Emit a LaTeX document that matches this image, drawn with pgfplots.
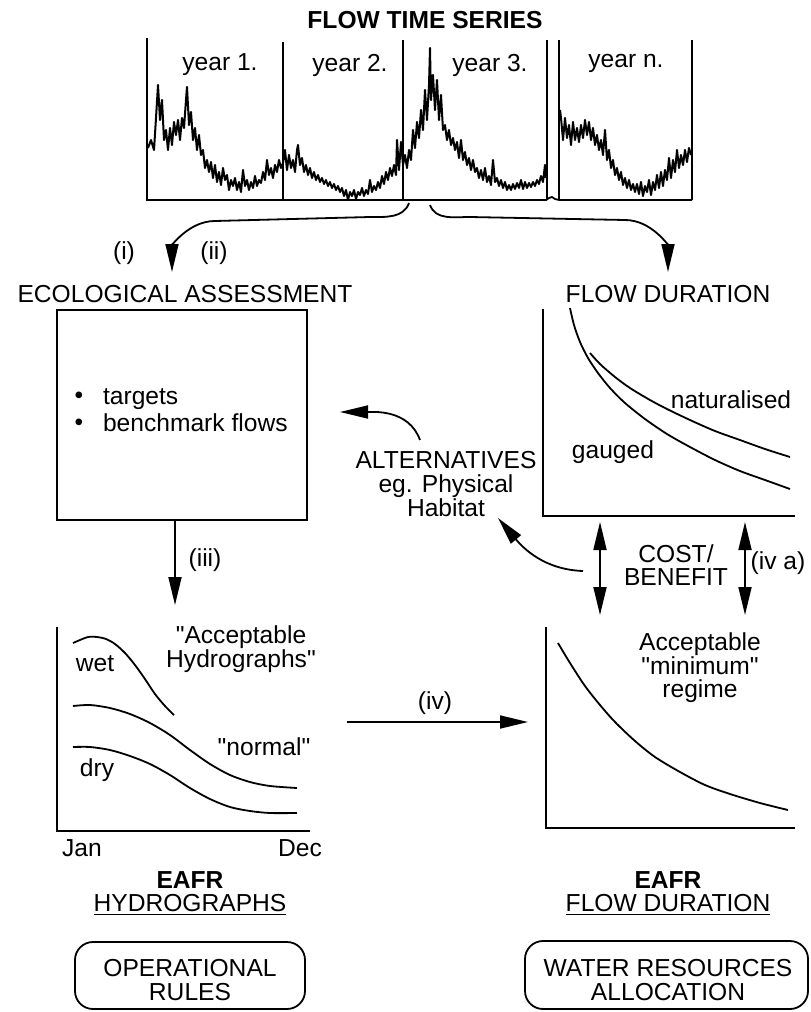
\documentclass[border=0pt]{standalone}
\usepackage{pgfplots}
\pgfplotsset{compat=1.18}
\usepackage{fontspec}
\setmainfont{Liberation Sans}
\newfontfamily\plainq{Liberation Sans}[Ligatures=TeXOff]
\newcommand\q{{\plainq"}}
\usetikzlibrary{arrows.meta}

\newcommand\fs{\fontsize{12.3}{11.8}\selectfont}

% every panel is an axis in pixel units of the reference, y running downwards
\pgfplotsset{
  panel/.style={hide axis, scale only axis, clip=false, y dir=reverse},
  ln/.style={black, line width=0.9pt, mark=none},
  ts/.style={black, line width=1pt, mark=none, line join=round},
}
\tikzset{arr/.style={-{Triangle[length=14pt,width=6.5pt]}, line width=0.9pt}}

\begin{document}
\begin{tikzpicture}[x=0.5pt, y=0.5pt, font=\fs]
\useasboundingbox (0,0) rectangle (810,-1012);
\coordinate (tsll) at (147,-200);
\coordinate (hyll) at (57,-831);
\coordinate (fdall) at (543,-516);
\coordinate (fdbll) at (546,-828);

% ---------------- flow time series ----------------
\begin{axis}[panel, at={(tsll)}, anchor=south west,
  width=272.5pt, height=81pt, xmin=147, xmax=692, ymin=38, ymax=200]
\addplot[ln] coordinates {(147,38) (147,200) (546,200) (549,198) (552,197) (555,199) (559,200) (692,200)};
\addplot[ln] coordinates {(283,42) (283,200)};
\addplot[ln] coordinates {(403,40) (403,200)};
\addplot[ln] coordinates {(547,40) (547,200)};
\addplot[ln] coordinates {(559,40) (559,200)};
\addplot[ln] coordinates {(692,40) (692,200)};
% year 1
\addplot[ts] table {
148 148
151 140
154 150
156 118
158 85
160 120
162 100
164 140
166 130
168 150
170 128
172 145
174 122
176 135
178 120
180 140
182 118
184 128
186 100
187 87
189 125
191 112
193 140
195 128
197 150
199 135
201 155
203 150
205 168
207 160
209 172
211 162
213 178
215 165
217 182
219 172
221 185
223 168
225 180
227 175
229 190
231 180
233 186
235 178
237 190
239 182
241 192
243 170
245 186
247 180
249 190
251 182
253 188
255 176
257 186
259 180
261 183
263 172
265 180
267 160
269 175
271 168
273 178
275 165
277 172
279 160
281 168
283 163
};
% year 2
\addplot[ts] table {
283 163
285 150
287 170
289 155
291 168
293 160
295 172
297 150
298 145
300 165
302 158
304 172
306 165
308 175
310 168
312 178
314 172
316 180
318 175
320 182
322 178
324 184
326 180
328 186
330 182
332 188
334 184
336 190
338 186
340 192
342 188
344 196
346 190
348 200
350 192
352 196
354 190
356 199
358 192
360 195
362 188
364 196
366 190
368 194
370 180
372 192
374 186
376 190
378 182
380 188
382 176
384 184
386 172
388 180
390 168
392 176
394 165
396 175
397 140
399 170
401 142
403 165
};
% year 3
\addplot[ts] table {
403 165
405 155
407 168
409 150
411 160
413 130
415 148
417 122
419 138
421 110
423 130
425 90
427 120
429 85
430 48
431 100
433 75
435 110
437 80
439 120
441 95
443 130
445 125
447 140
449 130
451 145
453 138
455 150
457 142
459 158
461 140
463 160
465 152
467 165
469 158
471 170
473 160
475 172
477 168
479 178
481 170
483 180
485 168
487 182
489 176
491 185
493 160
495 182
497 178
499 186
501 180
503 188
505 182
507 190
509 185
511 190
513 184
515 189
517 183
519 188
521 180
523 189
525 182
527 188
529 183
531 187
533 182
535 186
537 180
539 184
541 176
543 182
545 165
546 178
};
% year n
\addplot[ts] table {
560 110
561 118
563 140
565 118
567 138
569 125
571 145
573 122
575 140
577 128
579 142
581 125
583 138
585 120
587 135
589 122
591 140
593 128
595 145
597 135
599 150
601 140
603 155
605 130
607 160
609 150
611 168
613 160
615 175
617 168
619 180
621 172
623 185
625 178
627 188
629 180
631 190
633 184
635 192
637 184
639 194
641 182
643 196
645 186
647 192
649 180
651 195
653 182
655 190
657 175
659 188
661 172
663 186
665 170
667 180
669 158
671 178
673 160
675 172
677 150
679 168
681 155
683 165
685 150
687 162
689 148
691 155
};
\end{axis}

% ---------------- acceptable hydrographs ----------------
\begin{axis}[panel, at={(hyll)}, anchor=south west,
  width=126.5pt, height=102pt, xmin=57, xmax=310, ymin=627, ymax=831]
\addplot[ln] coordinates {(57,627) (57,831) (310,831)};
\addplot[ln, smooth] coordinates {(73,643) (80,640) (88,637) (97,637) (106,639) (115,644) (125,653) (135,665) (145,679) (155,694) (165,706) (174,715)};
\addplot[ln, smooth] coordinates {(73,706) (90,705) (110,708) (130,714) (150,723) (170,735) (190,750) (210,764) (230,775) (250,782) (270,786) (297,788)};
\addplot[ln, smooth] coordinates {(73,747) (90,747) (110,750) (130,756) (150,764) (170,775) (190,788) (210,799) (230,807) (250,811) (270,813) (297,813)};
\end{axis}

% ---------------- flow duration ----------------
\begin{axis}[panel, at={(fdall)}, anchor=south west,
  width=126pt, height=103.5pt, xmin=543, xmax=795, ymin=309, ymax=516]
\addplot[ln] coordinates {(543,309) (543,516) (795,516)};
\addplot[ln, smooth] coordinates {(570,308) (574,325) (580,342) (588,358) (598,373) (610,388) (625,403) (645,419) (667,434) (690,447) (715,460) (740,471) (765,480) (790,489)};
\addplot[ln, smooth] coordinates {(590,353) (600,364) (615,377) (630,388) (650,400) (667,409) (690,420) (715,431) (740,440) (765,449) (790,457)};
\end{axis}

% ---------------- acceptable minimum regime ----------------
\begin{axis}[panel, at={(fdbll)}, anchor=south west,
  width=124.5pt, height=100.5pt, xmin=546, xmax=795, ymin=627, ymax=828]
\addplot[ln] coordinates {(546,627) (546,828) (795,828)};
\addplot[ln, smooth] coordinates {(558,643) (570,663) (585,686) (600,705) (615,722) (635,741) (655,757) (680,772) (705,785) (730,794) (760,803) (788,810)};
\end{axis}

% ---------------- boxes, arrows and text ----------------
\node[font=\fs\bfseries] at (425,-20) {FLOW TIME SERIES};
\node at (220,-65) {year 1.};
\node at (350,-65) {year 2.};
\node at (490,-65) {year 3.};
\node at (626,-63) {year n.};

\draw[arr] (409,-203) to[out=-110,in=0] (370,-217) -- (215,-221) to[out=180,in=90] (172,-272);
\draw[arr] (430,-205) to[out=-70,in=180] (470,-217) -- (625,-220) to[out=0,in=90] (668,-272);
\node at (124,-253) {(i)};
\node at (214,-253) {(ii)};

\node at (185,-294) {ECOLOGICAL ASSESSMENT};
\node at (668,-294) {FLOW DURATION};

\draw[line width=0.9pt] (57,-310) rectangle (307,-520);
\node at (79,-398) {\textbullet};
\node[anchor=base west] at (96,-404) {targets};
\node at (79,-425) {\textbullet};
\node[anchor=base west] at (96,-431) {benchmark flows};

\node at (731,-400) {naturalised};
\node at (613,-452) {gauged};

\node[align=center] at (446,-484) {ALTERNATIVES\\eg. Physical\\Habitat};
\draw[arr] (420,-440) to[out=110,in=0] (340,-412);
\draw[arr] (583,-571) to[out=178,in=-50] (498,-518);

\draw[{Triangle[length=14pt,width=6.5pt]}-{Triangle[length=14pt,width=6.5pt]}, line width=0.9pt] (600,-522) -- (600,-615);
\draw[{Triangle[length=14pt,width=6.5pt]}-{Triangle[length=14pt,width=6.5pt]}, line width=0.9pt] (745,-522) -- (745,-615);
\node[align=center] at (676,-565) {COST/\\BENEFIT};
\node at (778,-563) {(iv a)};

\draw[arr] (175,-520) -- (175,-605);
\node at (205,-560) {(iii)};

\node at (95,-664) {wet};
\node at (97,-770) {dry};
\node[align=center] at (241,-649) {\q Acceptable\\Hydrographs\q};
\node at (264,-747) {\q normal\q};

\draw[arr] (347,-722) -- (528,-722);
\node at (435,-703) {(iv)};

\node[align=center] at (700,-668) {Acceptable\\\q minimum\q\\regime};

\node at (82,-848) {Jan};
\node at (300,-848) {Dec};

\node[font=\fs\bfseries] at (190,-880) {EAFR};
\node at (190,-905) {\underline{HYDROGRAPHS}};
\node[font=\fs\bfseries] at (668,-880) {EAFR};
\node at (668,-905) {\underline{FLOW DURATION}};

\draw[line width=0.9pt, rounded corners=9pt] (75,-942) rectangle (305,-1009);
\node[align=center] at (190,-980) {OPERATIONAL\\RULES};
\draw[line width=0.9pt, rounded corners=9pt] (525,-941) rectangle (808,-1009);
\node[align=center] at (668,-980) {WATER RESOURCES\\ALLOCATION};
\end{tikzpicture}
\end{document}
